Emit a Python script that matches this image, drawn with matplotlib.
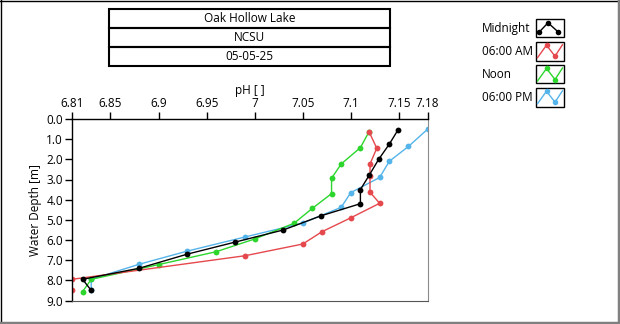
import matplotlib
matplotlib.use("Agg")
import numpy as np
import matplotlib.pyplot as plt
from matplotlib.patches import Rectangle
from matplotlib.lines import Line2D
from matplotlib.collections import LineCollection

plt.rcParams['font.family'] = ['Open Sans', 'DejaVu Sans']

title_rows = ["Oak Hollow Lake", "NCSU", "05-05-25"]
series_names = ["Midnight", "06:00 AM", "Noon", "06:00 PM"]
colors = {"Midnight": "#000000", "06:00 AM": "#E5484D", "Noon": "#2CD62C", "06:00 PM": "#55B4EA"}

midnight_depth = [0.55, 1.25, 2.0, 2.8, 3.5, 4.2, 4.8, 5.5, 6.1, 6.7, 7.4, 7.95, 8.5]
midnight_ph = [7.149, 7.140, 7.129, 7.119, 7.110, 7.110, 7.069, 7.030, 6.980, 6.930, 6.880, 6.821, 6.830]

am_depth = [0.63, 1.45, 2.23, 2.85, 3.63, 4.18, 4.9, 5.59, 6.2, 6.78, 7.95, 8.5]
am_ph = [7.119, 7.127, 7.120, 7.120, 7.120, 7.130, 7.100, 7.070, 7.050, 6.990, 6.810, 6.810]

noon_depth = [0.63, 1.42, 2.23, 2.94, 3.7, 4.43, 5.17, 5.95, 6.58, 7.22, 7.95, 8.56]
noon_ph = [7.119, 7.110, 7.090, 7.080, 7.080, 7.060, 7.041, 7.000, 6.960, 6.900, 6.830, 6.821]

pm_depth = [0.5, 1.36, 2.1, 2.9, 3.65, 4.38, 5.16, 5.85, 6.55, 7.2, 7.95, 8.48]
pm_ph = [7.180, 7.160, 7.140, 7.130, 7.100, 7.090, 7.050, 6.990, 6.930, 6.880, 6.830, 6.830]

x_ticks = [6.81, 6.85, 6.9, 6.95, 7.0, 7.05, 7.1, 7.15, 7.18]
x_tick_labels = ["6.81", "6.85", "6.9", "6.95", "7", "7.05", "7.1", "7.15", "7.18"]
y_ticks = [0, 1, 2, 3, 4, 5, 6, 7, 8, 9]
y_tick_labels = ["0.0", "1.0", "2.0", "3.0", "4.0", "5.0", "6.0", "7.0", "8.0", "9.0"]

W, H = 620, 324
fig = plt.figure(figsize=(6.2, 3.24), dpi=100)

def fx(px):
    return px / W

def fy(py):
    return 1 - py / H

ax = fig.add_axes([fx(72), fy(300.5), (427.7 - 72) / W, (300.5 - 119) / H])

draw = [("06:00 PM", pm_ph, pm_depth), ("Noon", noon_ph, noon_depth),
        ("06:00 AM", am_ph, am_depth), ("Midnight", midnight_ph, midnight_depth)]
for i, (name, xs, ys) in enumerate(draw):
    lc = LineCollection([np.column_stack([xs, ys])], colors=[colors[name]], linewidths=1.0,
                        zorder=2 + i * 0.1)
    ax.add_collection(lc)
    ax.plot(xs, ys, ls='none', color=colors[name], marker='o', ms=4.2, mec='none', zorder=2.05 + i * 0.1)

ax.set_xlim(6.81, 7.18)
ax.set_ylim(9.0, 0.0)
ax.xaxis.set_ticks_position('top')
ax.xaxis.set_label_position('top')
ax.set_xticks(x_ticks)
ax.set_xticklabels(x_tick_labels)
ax.set_yticks(y_ticks)
ax.set_yticklabels(y_tick_labels)
ax.tick_params(axis='both', direction='out', length=5, width=1, labelsize=8.5, pad=1.5, colors='black')
ax.set_xlabel("pH [ ]", fontsize=8.5, labelpad=2)
ax.set_ylabel("Water Depth [m]", fontsize=8.5, labelpad=3)
for s in ['top', 'left']:
    ax.spines[s].set_color('black')
    ax.spines[s].set_linewidth(1.0)
ax.spines['right'].set_color('#8a8a8a')
ax.spines['bottom'].set_color('#555555')

# Title box
bx0, bx1 = 109, 390
row_edges = [9, 28, 47, 66]
for i, txt in enumerate(title_rows):
    top, bot = row_edges[i], row_edges[i + 1]
    fig.patches.append(Rectangle((fx(bx0), fy(bot)), fx(bx1 - bx0), (bot - top) / H,
                                 transform=fig.transFigure, fill=False, ec='black', lw=1.5))
    fig.text(fx((bx0 + bx1) / 2), fy((top + bot) / 2), txt, ha='center', va='center', fontsize=8.5)

# Legend
leg_boxes = [(19.3, 37.3), (41.7, 60.7), (65, 83), (87.7, 106.7)]
for name, (t, b) in zip(series_names, leg_boxes):
    fig.text(fx(482), fy((t + b) / 2), name, ha='left', va='center', fontsize=8.5)
    fig.patches.append(Rectangle((fx(536), fy(b)), fx(28), (b - t) / H,
                                 transform=fig.transFigure, fill=False, ec='black', lw=1.0))
    c = colors[name]
    if name == "Midnight":
        px = [539, 548, 558]
        py = [t + 13, t + 3.5, t + 12.5]
        fig.lines.append(Line2D([fx(p) for p in px], [fy(p) for p in py], transform=fig.transFigure,
                                color=c, lw=1.0, marker='o', ms=4, mec='none'))
    else:
        px = [537.5, 546.5, 555, 562.5]
        py = [t + 16, t + 3.5, t + 14.5, t + 3]
        fig.lines.append(Line2D([fx(p) for p in px], [fy(p) for p in py], transform=fig.transFigure,
                                color=c, lw=1.0))
        fig.lines.append(Line2D([fx(px[1]), fx(px[2])], [fy(py[1]), fy(py[2])], transform=fig.transFigure,
                                color=c, lw=0, marker='o', ms=4, mec='none'))

# Figure frame
fig.lines.append(Line2D([0, 1], [fy(0.5), fy(0.5)], transform=fig.transFigure, color='black', lw=1))
fig.lines.append(Line2D([fx(0.5), fx(0.5)], [0, 1], transform=fig.transFigure, color='black', lw=1))
fig.lines.append(Line2D([fx(618.5), fx(618.5)], [0, 1], transform=fig.transFigure, color='#808080', lw=2.5))
fig.lines.append(Line2D([0, 1], [fy(322.5), fy(322.5)], transform=fig.transFigure, color='#808080', lw=2.5))

fig.savefig("out.png", dpi=100)
